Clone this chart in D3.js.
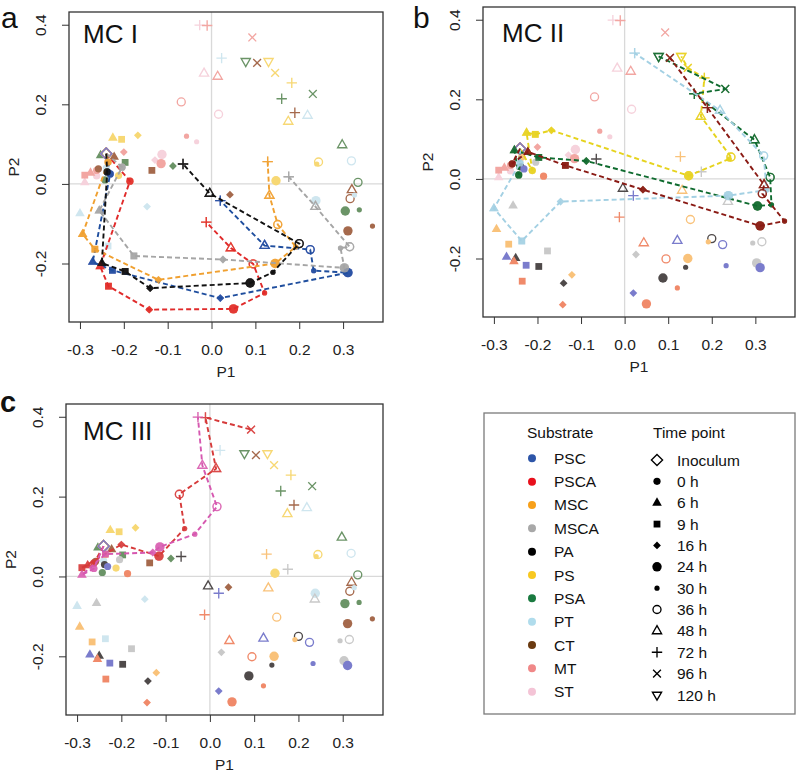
<!DOCTYPE html>
<html><head><meta charset="utf-8">
<script src="https://cdn.jsdelivr.net/npm/d3@7"></script>
<style>body{margin:0;background:#fff;} svg{display:block;font-family:"Liberation Sans",Arial,sans-serif;}</style>
</head><body><svg id="chart" width="800" height="773"></svg>
<script>
// ---------------- data ----------------
const substrates = ["PSC","PSCA","MSC","MSCA","PA","PS","PSA","PT","CT","MT","ST"];
const timePoints = ["Inoculum","0 h","6 h","9 h","16 h","24 h","30 h","36 h","48 h","72 h","96 h","120 h"];
const p1Ticks = [-0.3,-0.2,-0.1,0.0,0.1,0.2,0.3];
const p2Ticks = [-0.2,0.0,0.2,0.4];
const panelLetters = ["a","b","c"];
const panelTitles = ["MC I","MC II","MC III"];
const panelHighlights = [["PSC","PSCA","MSC","MSCA","PA"],["PS","PSA","PT","CT"],["MT","ST"]];

// [P1, P2] per time point (Inoculum, 0,6,9,16,24,30,36,48,72,96,120 h); null = not sampled
const PSC  = [[-0.240,0.076],[-0.231,0.025],[-0.271,-0.196],[-0.226,-0.217],[0.020,-0.287],[0.311,-0.223],[0.233,-0.218],[0.225,-0.165],[0.121,-0.155],[0.020,-0.042],null,null];
const PSCA = [[-0.240,0.076],[-0.186,0.007],[-0.254,-0.207],[-0.235,-0.257],[-0.142,-0.316],[0.050,-0.314],[0.121,-0.274],[0.095,-0.201],[0.044,-0.161],[-0.012,-0.096],null,null];
const MSC  = [[-0.240,0.076],[-0.236,0.055],[-0.294,-0.126],[-0.266,-0.164],[-0.121,-0.241],[0.145,-0.200],[0.192,-0.158],[0.151,-0.102],[0.132,-0.029],[0.128,0.056],null,null];
const MSCA = [[-0.240,0.076],[-0.204,0.042],[-0.256,-0.067],[-0.177,-0.181],[0.026,-0.190],[0.303,-0.211],[0.294,-0.161],[0.315,-0.158],[0.237,-0.057],[0.176,0.018],null,null];
const PA   = [[-0.240,0.076],[-0.238,0.030],[-0.250,-0.199],[-0.197,-0.220],[-0.140,-0.262],[0.088,-0.249],[0.140,-0.222],[0.200,-0.150],[-0.004,-0.024],[-0.065,0.050],null,null];
const PS   = [[-0.240,0.076],[-0.212,0.021],[-0.225,0.116],[-0.205,0.112],[-0.168,0.122],[0.147,0.008],[0.240,0.050],[0.244,0.055],[0.175,0.157],[0.183,0.254],[0.145,0.279],[0.130,0.308]];
const PSA  = [[-0.240,0.076],[-0.243,0.010],[-0.253,0.072],[-0.197,0.054],[-0.088,0.045],[0.305,-0.068],[0.337,-0.065],[0.334,0.004],[0.298,0.098],[0.160,0.214],[0.231,0.226],[0.078,0.308]];
const PT   = [[-0.240,0.076],[-0.240,0.040],[-0.300,-0.074],[-0.236,-0.156],[-0.147,-0.057],[0.238,-0.042],[0.326,-0.028],[0.319,0.058],[0.219,0.172],[0.023,0.316],null,null];
const CT   = [[-0.240,0.076],[-0.258,0.038],[-0.222,0.068],[-0.136,0.034],[0.042,-0.027],[0.311,-0.118],[0.367,-0.106],[0.316,-0.037],[0.320,-0.015],[0.190,0.179],[0.104,0.304],null];
const MT   = [[-0.240,0.076],[-0.262,0.034],[-0.276,0.028],[-0.289,0.022],[-0.200,0.080],[-0.115,0.051],[-0.057,0.120],[-0.069,0.206],[0.014,0.270],[-0.010,0.398],[0.093,0.368],null];
const ST   = [[-0.240,0.076],[-0.262,0.020],[-0.289,0.004],[-0.236,0.056],[-0.129,0.060],[-0.113,0.074],[-0.034,0.106],[0.016,0.175],[-0.017,0.278],[-0.027,0.399],null,null];

// ---------------- styles ----------------
const legendColor = {PSC:"#2d55a8",PSCA:"#e8101c",MSC:"#f7a01a",MSCA:"#a8a8a8",PA:"#000000",PS:"#f8c820",PSA:"#1a7a40",PT:"#b0dcec",CT:"#6a3a10",MT:"#f08888",ST:"#f4c4d6"};
const fadedColor  = {PSC:"#7a7ccc",PSCA:"#f08a6a",MSC:"#f9c27a",MSCA:"#c9c9c9",PA:"#4f4a4a",PS:"#f7d874",PSA:"#6b9467",PT:"#cfe6ef",CT:"#a5694c",MT:"#f2a6a2",ST:"#f6d2dc"};
const lineColor   = {PSC:"#1f4e9e",PSCA:"#e02a2a",MSC:"#f0a030",MSCA:"#a5a5a5",PA:"#111111",PS:"#e6d31e",PSA:"#0f6b2f",PT:"#a3d0e3",CT:"#8a1a14",MT:"#d63a3a",ST:"#d658b0"};

const series = {PSC,PSCA,MSC,MSCA,PA,PS,PSA,PT,CT,MT,ST};

const layouts = [
  {x0:69, x1:383, y0:12, y1:322, lx:1,   ly:28,  tx:83,  ty:43,  lsize:30, lweight:"normal"},
  {x0:483,x1:795, y0:7,  y1:317, lx:413, ly:28,  tx:502, ty:42,  lsize:30, lweight:"normal"},
  {x0:66, x1:383, y0:404,y1:715, lx:0,   ly:412, tx:83,  ty:440, lsize:29, lweight:"bold"}
];
const xDomain = [-0.325, 0.391], yDomain = [-0.347, 0.432];

const svg = d3.select("#chart");
const FS = 15.5;

function drawMarker(g, t, x, y, color, op) {
  const filled = (attr) => g.append("path").attr("transform",`translate(${x},${y})`).attr("d",attr).attr("fill",color).attr("fill-opacity",op).attr("stroke","none");
  const stroked = (attr) => g.append("path").attr("transform",`translate(${x},${y})`).attr("d",attr).attr("fill","none").attr("stroke",color).attr("stroke-opacity",op).attr("stroke-width",1.35);
  const circ = (r, fill) => {
    const c = g.append("circle").attr("cx",x).attr("cy",y).attr("r",r);
    if (fill) c.attr("fill",color).attr("fill-opacity",op);
    else c.attr("fill","none").attr("stroke",color).attr("stroke-opacity",op).attr("stroke-width",1.35);
  };
  switch (t) {
    case 0: stroked("M0,-5.6L5.6,0L0,5.6L-5.6,0Z"); break;
    case 1: circ(3.6, true); break;
    case 2: filled("M0,-5.4L4.8,2.9L-4.8,2.9Z"); break;
    case 3: filled("M-3.4,-3.4H3.4V3.4H-3.4Z"); break;
    case 4: filled("M0,-3.9L3.9,0L0,3.9L-3.9,0Z"); break;
    case 5: circ(4.7, true); break;
    case 6: circ(2.6, true); break;
    case 7: circ(4.0, false); break;
    case 8: stroked("M0,-5.2L4.6,2.8L-4.6,2.8Z"); break;
    case 9: stroked("M-5.2,0H5.2M0,-5.2V5.2"); break;
    case 10: stroked("M-3.9,-3.9L3.9,3.9M-3.9,3.9L3.9,-3.9"); break;
    case 11: stroked("M0,5.2L4.6,-2.8L-4.6,-2.8Z"); break;
  }
}

layouts.forEach((L, pi) => {
  const x = d3.scaleLinear().domain(xDomain).range([L.x0, L.x1]);
  const y = d3.scaleLinear().domain(yDomain).range([L.y1, L.y0]);
  const g = svg.append("g");

  // reference lines
  g.append("line").attr("x1",x(0)).attr("x2",x(0)).attr("y1",L.y0).attr("y2",L.y1).attr("stroke","#d9d9d9").attr("stroke-width",1.3);
  g.append("line").attr("x1",L.x0).attr("x2",L.x1).attr("y1",y(0)).attr("y2",y(0)).attr("stroke","#d9d9d9").attr("stroke-width",1.3);

  // faded background points (all substrates)
  const fadedG = g.append("g");
  substrates.slice().reverse().forEach(s => {
    series[s].forEach((p, t) => { if (p) drawMarker(fadedG, t, x(p[0]), y(p[1]), fadedColor[s], 1); });
  });

  // highlighted trajectories
  const line = d3.line().defined(d => d).x(d => x(d[0])).y(d => y(d[1]));
  panelHighlights[pi].forEach(s => {
    const pts = series[s].filter(d => d);
    g.append("path").attr("d", line(pts)).attr("fill","none").attr("stroke",lineColor[s])
      .attr("stroke-width",1.9).attr("stroke-dasharray","5,3");
    series[s].forEach((p, t) => { if (p && t > 0) drawMarker(g, t, x(p[0]), y(p[1]), lineColor[s], 0.85); });
  });

  // box
  g.append("rect").attr("x",L.x0).attr("y",L.y0).attr("width",L.x1-L.x0).attr("height",L.y1-L.y0)
    .attr("fill","none").attr("stroke","#333").attr("stroke-width",1.3);

  // axes
  const ax = g.append("g").attr("transform",`translate(0,${L.y1})`)
    .call(d3.axisBottom(x).tickValues(p1Ticks).tickSize(7).tickPadding(15).tickFormat(d => d.toFixed(1)));
  ax.select(".domain").remove();
  ax.selectAll("text").attr("font-size",FS).attr("font-family","Liberation Sans, Arial, sans-serif").attr("fill","#222");
  ax.selectAll("line").attr("stroke","#333");

  const ay = g.append("g").attr("transform",`translate(${L.x0},0)`)
    .call(d3.axisLeft(y).tickValues(p2Ticks).tickSize(7).tickFormat(d => d.toFixed(1)));
  ay.select(".domain").remove();
  ay.selectAll("line").attr("stroke","#333");
  ay.selectAll("text").attr("transform","rotate(-90)").attr("x",0).attr("y",-23).attr("dy",0)
    .attr("text-anchor","middle").attr("font-size",FS).attr("font-family","Liberation Sans, Arial, sans-serif").attr("fill","#222");

  // axis titles
  g.append("text").attr("x",(L.x0+L.x1)/2).attr("y",L.y1+55).attr("text-anchor","middle").attr("font-size",FS).attr("fill","#222").text("P1");
  g.append("text").attr("transform",`translate(${L.x0-50},${(L.y0+L.y1)/2}) rotate(-90)`).attr("text-anchor","middle").attr("font-size",FS).attr("fill","#222").text("P2");

  // panel title & letter
  g.append("text").attr("x",L.tx).attr("y",L.ty).attr("font-size",26).attr("fill","#111").text(panelTitles[pi]);
  svg.append("text").attr("x",L.lx).attr("y",L.ly).attr("font-size",L.lsize).attr("font-weight",L.lweight).attr("fill","#111").text(panelLetters[pi]);
});

// ---------------- legend ----------------
const lg = svg.append("g");
lg.append("rect").attr("x",484).attr("y",413).attr("width",311).attr("height",301).attr("fill","none").attr("stroke","#7a7a7a").attr("stroke-width",1.3);
lg.append("text").attr("x",527).attr("y",438).attr("font-size",FS).attr("fill","#111").text("Substrate");
lg.append("text").attr("x",653).attr("y",438).attr("font-size",FS).attr("fill","#111").text("Time point");
const subY = d3.scalePoint().domain(substrates).range([458.3, 691.7]);
substrates.forEach(s => {
  lg.append("circle").attr("cx",532).attr("cy",subY(s)).attr("r",4).attr("fill",legendColor[s]);
  lg.append("text").attr("x",554).attr("y",subY(s)+5.5).attr("font-size",FS).attr("fill","#111").text(s);
});
const tpY = d3.scalePoint().domain(timePoints).range([460, 695]);
timePoints.forEach((tp, t) => {
  drawMarker(lg, t, 657, tpY(tp), "#000", 1);
  lg.append("text").attr("x",677).attr("y",tpY(tp)+5.5).attr("font-size",FS).attr("fill","#111").text(tp);
});
</script></body></html>
